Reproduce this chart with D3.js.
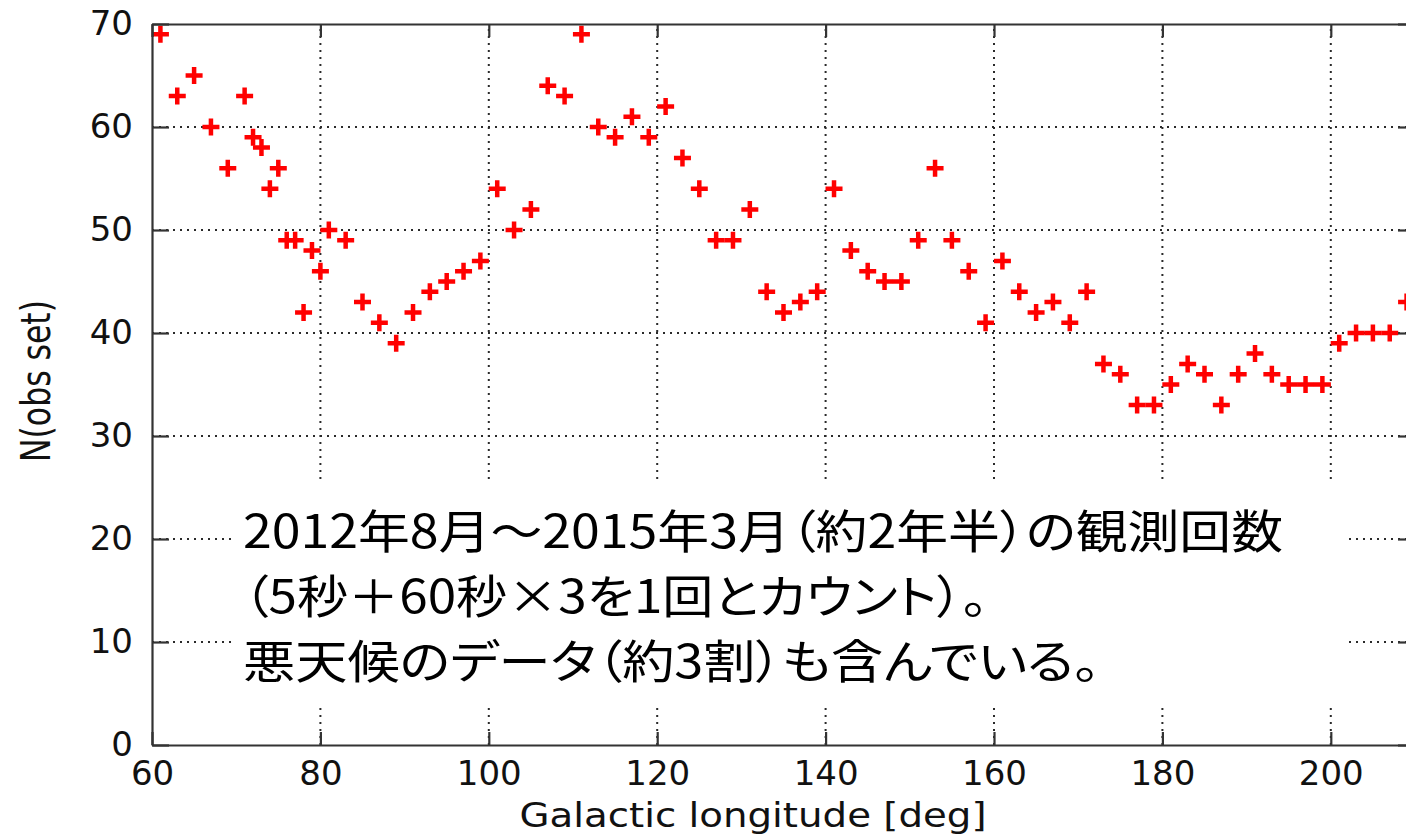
<!DOCTYPE html>
<html>
<head>
<meta charset="utf-8">
<script src="https://cdn.jsdelivr.net/npm/d3@7"></script>
<style>
  html, body { margin: 0; padding: 0; background: #fff; overflow: hidden; }
  svg { display: block; }
  .note { font-feature-settings: "palt" 1; }
</style>
</head>
<body>
<svg id="chart" width="1406" height="836"></svg>
<script>
// Galactic longitude [deg] of each pointing
const longitudes = [
  61, 63, 65, 67, 69,
  71, 72, 73, 74, 75, 76, 77, 78, 79, 80, 81,
  83, 85, 87, 89, 91, 93, 95, 97, 99,
  101, 103, 105, 107, 109, 111, 113, 115, 117, 119,
  121, 123, 125, 127, 129, 131, 133, 135, 137, 139,
  141, 143, 145, 147, 149, 151, 153, 155, 157, 159,
  161, 163, 165, 167, 169, 171, 173, 175, 177, 179,
  181, 183, 185, 187, 189, 191, 193, 195, 197, 199,
  201, 203, 205, 207, 209
];

// Number of observation sets at each longitude
const obsCounts = [
  69, 63, 65, 60, 56,
  63, 59, 58, 54, 56, 49, 49, 42, 48, 46, 50,
  49, 43, 41, 39, 42, 44, 45, 46, 47,
  54, 50, 52, 64, 63, 69, 60, 59, 61, 59,
  62, 57, 54, 49, 49, 52, 44, 42, 43, 44,
  54, 48, 46, 45, 45, 49, 56, 49, 46, 41,
  47, 44, 42, 43, 41, 44, 37, 36, 33, 33,
  35, 37, 36, 33, 36, 38, 36, 35, 35, 35,
  39, 40, 40, 40, 43
];

const xTickValues = [60, 80, 100, 120, 140, 160, 180, 200];
const yTickValues = [0, 10, 20, 30, 40, 50, 60, 70];

const xAxisTitle = "Galactic longitude [deg]";
const yAxisTitle = "N(obs set)";

const noteLines = [
  "2012年8月～2015年3月（約2年半）の観測回数",
  "（5秒＋60秒×3を1回とカウント）。",
  "悪天候のデータ（約3割）も含んでいる。"
];

// ---- layout ----
const svg = d3.select("#chart");
const plotLeft = 152, plotTop = 24, plotBottom = 745;
const pxPerDeg = 8.42;

const x = d3.scaleLinear().domain([60, 210]).range([plotLeft, plotLeft + 150 * pxPerDeg]);
const y = d3.scaleLinear().domain([0, 70]).range([plotBottom, plotTop]);
const plotRight = x(210);

svg.append("rect").attr("width", 1406).attr("height", 836).attr("fill", "#fff");

// dotted grid
const grid = svg.append("g")
  .attr("stroke", "#2a2a2a")
  .attr("stroke-width", 2)
  .attr("stroke-dasharray", "2,5");

grid.selectAll("line.v")
  .data(xTickValues.filter(d => d > 60))
  .join("line")
  .attr("class", "v")
  .attr("x1", d => x(d)).attr("x2", d => x(d))
  .attr("y1", y(0)).attr("y2", y(70));

grid.selectAll("line.h")
  .data(yTickValues.filter(d => d > 0 && d < 70))
  .join("line")
  .attr("class", "h")
  .attr("y1", d => y(d)).attr("y2", d => y(d))
  .attr("x1", plotLeft).attr("x2", plotRight);

// red plus markers
const arm = 8.5;
svg.append("g")
  .selectAll("path")
  .data(longitudes.map((l, i) => [l, obsCounts[i]]))
  .join("path")
  .attr("transform", d => `translate(${x(d[0])},${y(d[1])})`)
  .attr("d", `M${-arm},0H${arm}M0,${-arm}V${arm}`)
  .attr("stroke", "#ff0000")
  .attr("stroke-width", 4.5)
  .attr("fill", "none");

// annotation panel
svg.append("rect")
  .attr("x", 232).attr("y", 481)
  .attr("width", 1345 - 232).attr("height", 706 - 481)
  .attr("fill", "#fff");

const noteWidths = [1040, 745, 857];
svg.append("g")
  .selectAll("text")
  .data(noteLines)
  .join("text")
  .attr("class", "note")
  .attr("x", 243)
  .attr("y", (d, i) => 548 + i * 65)
  .attr("textLength", (d, i) => noteWidths[i])
  .attr("lengthAdjust", "spacingAndGlyphs")
  .attr("font-family", "'Noto Sans CJK JP', 'Noto Sans CJK SC', sans-serif")
  .attr("font-size", 46)
  .attr("fill", "#000")
  .text(d => d);

// axes (ticks pointing inward, box frame)
const tickFont = "'DejaVu Sans', sans-serif";
function styleAxis(g) {
  g.select(".domain").attr("stroke", "#333").attr("stroke-width", 2.2);
  g.selectAll(".tick line").attr("stroke", "#333").attr("stroke-width", 2.2);
  g.selectAll(".tick text")
    .attr("fill", "#111")
    .attr("font-family", tickFont)
    .attr("font-size", 34);
}

svg.append("g")
  .attr("transform", `translate(0,${plotBottom})`)
  .call(d3.axisBottom(x).tickValues(xTickValues).tickFormat(d3.format("d"))
    .tickSizeInner(-13).tickSizeOuter(0).tickPadding(16))
  .call(styleAxis);

svg.append("g")
  .attr("transform", `translate(0,${plotTop})`)
  .call(d3.axisTop(x).tickValues(xTickValues).tickFormat("")
    .tickSizeInner(-13).tickSizeOuter(0))
  .call(styleAxis);

svg.append("g")
  .attr("transform", `translate(${plotLeft},0)`)
  .call(d3.axisLeft(y).tickValues(yTickValues).tickFormat(d3.format("d"))
    .tickSizeInner(-17).tickSizeOuter(0).tickPadding(19))
  .call(styleAxis);

svg.append("g")
  .attr("transform", `translate(${plotRight},0)`)
  .call(d3.axisRight(y).tickValues(yTickValues).tickFormat("")
    .tickSizeInner(-17).tickSizeOuter(0))
  .call(styleAxis);

// axis titles
svg.append("text")
  .attr("x", 753).attr("y", 827)
  .attr("text-anchor", "middle")
  .attr("textLength", 467)
  .attr("lengthAdjust", "spacingAndGlyphs")
  .attr("font-family", tickFont)
  .attr("font-size", 34)
  .attr("fill", "#111")
  .text(xAxisTitle);

svg.append("g")
  .attr("transform", "translate(35,381) scale(1.22,1) rotate(-90)")
  .append("text")
  .attr("x", 0).attr("y", 0)
  .attr("dy", "0.35em")
  .attr("text-anchor", "middle")
  .attr("textLength", 162)
  .attr("lengthAdjust", "spacingAndGlyphs")
  .attr("font-family", tickFont)
  .attr("font-size", 34)
  .attr("fill", "#111")
  .text(yAxisTitle);
</script>
</body>
</html>
